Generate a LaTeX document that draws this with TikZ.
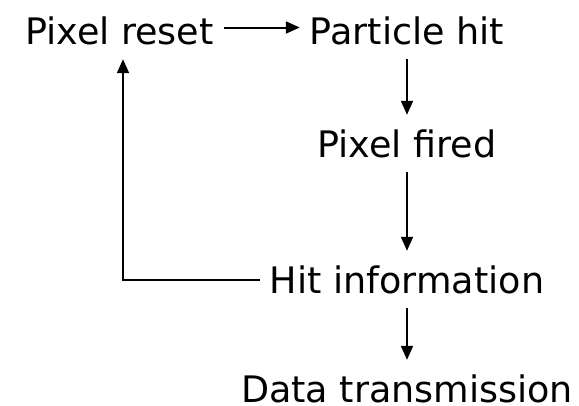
\documentclass[tikz,border=0pt]{standalone}
\usepackage{fontspec}
\setmainfont{DejaVu Sans}
\usetikzlibrary{arrows.meta}

\tikzset{
  stage/.style={anchor=base, inner sep=0pt, inner xsep=10pt, inner ysep=15pt,
                text height=27pt, text depth=0pt,
                font=\fontsize{36.5}{40}\selectfont},
  flow/.style={line width=2pt, -{Triangle[length=14pt,width=12pt]}}
}

\begin{document}
\begin{tikzpicture}[x=1pt,y=-1pt]
  \pgfmathsetmacro\col{407}   % x of the main column
  \useasboundingbox (0,0) rectangle (579,405);

% stages of the cycle
  \node[stage] (reset) at (119.5,44) {Pixel reset};
  \node[stage] (hit)   at (\col,44) {Particle hit};
  \node[stage] (fired) at (\col,157) {Pixel fired};
  \node[stage] (info)  at (\col,293) {Hit information};
  \node[stage] (data)  at (\col,402) {Data transmission};

% arrows down the column
  \draw[flow] ([yshift=3pt]reset.east) -- ([yshift=3pt]hit.west);
  \draw[flow] (hit.south)  -- (fired.north);
  \draw[flow] (fired.south) -- (info.north);
  \draw[flow] (info.south) -- (data.north);

% back to reset
  \draw[flow] (info.west) -| ([xshift=3.5pt]reset.south);

\end{tikzpicture}
\end{document}
